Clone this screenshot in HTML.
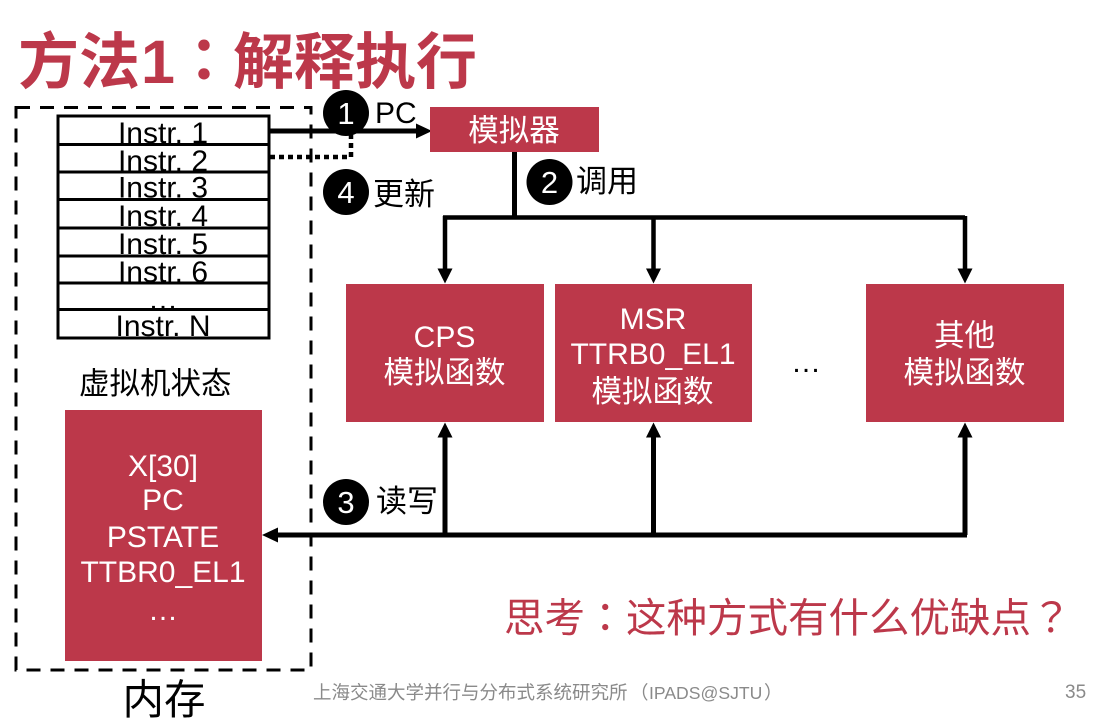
<!DOCTYPE html>
<html><head><meta charset="utf-8"><style>
html,body{margin:0;padding:0;background:#fff}
svg{display:block}
text{font-family:"Liberation Sans","Noto Sans CJK SC",sans-serif}
.tc{font-family:"Noto Sans CJK TC",sans-serif}
</style></head><body>
<svg width="1102" height="723" viewBox="0 0 1102 723" xmlns="http://www.w3.org/2000/svg">
<rect width="1102" height="723" fill="#fff"/>
<g font-size="61" font-weight="700" fill="#BC384A">
<text x="18" y="83">方法</text>
<text x="141" y="83">1</text>
<text x="174" y="82" class="tc" font-size="60">：</text>
<text x="233" y="83">解释执行</text>
</g>
<rect x="16" y="107.5" width="295" height="562.5" fill="none" stroke="#000" stroke-width="3" stroke-dasharray="14 10"/>
<g fill="#fff" stroke="#000" stroke-width="3">
<rect x="58" y="116" width="211" height="28.5"/><rect x="58" y="144.5" width="211" height="27.5"/><rect x="58" y="172" width="211" height="27.5"/><rect x="58" y="199.5" width="211" height="28.5"/><rect x="58" y="228" width="211" height="28"/><rect x="58" y="256" width="211" height="27"/><rect x="58" y="283" width="211" height="26.5"/><rect x="58" y="309.5" width="211" height="28.5"/>
</g>
<g font-size="30" text-anchor="middle" fill="#000">
<text x="163" y="143">Instr. 1</text><text x="163" y="171">Instr. 2</text><text x="163" y="197.5">Instr. 3</text><text x="163" y="226">Instr. 4</text><text x="163" y="254">Instr. 5</text><text x="163" y="282">Instr. 6</text><text x="163" y="309">…</text><text x="163" y="336">Instr. N</text>
</g>
<g stroke="#000" fill="none">
<path d="M269 131H418" stroke-width="5"/>
<path d="M270 157H351V133" stroke-width="4.5" stroke-dasharray="5 4"/>
<path d="M514.5 151V217" stroke-width="5"/>
<path d="M443 217.5H965" stroke-width="4.5"/>
<path d="M445 216V270M653.5 216V270M965 216V270" stroke-width="4.5"/>
<path d="M445 535V436M653.5 535V436M965 535V436" stroke-width="5"/>
<path d="M276 535H967" stroke-width="5"/>
</g>
<g fill="#000">
<path d="M432 131L416 123.5V138.5Z"/>
<path d="M445 283.5L437.500 268.500H452.500Z"/><path d="M653.500 283.500L646 268.500H661Z"/><path d="M965 283.500L957.500 268.500H972.500Z"/>
<path d="M445 422.500L437.500 437.500H452.500Z"/><path d="M653.500 422.500L646 437.500H661Z"/><path d="M965 422.500L957.500 437.500H972.500Z"/>
<path d="M262 535L278 527.500V542.500Z"/>
<circle cx="346" cy="113" r="23"/><circle cx="346" cy="192" r="23"/><circle cx="549.500" cy="182" r="23"/><circle cx="346" cy="502" r="23"/>
</g>
<g font-size="31" text-anchor="middle" fill="#fff">
<text x="346" y="124">1</text><text x="346" y="203">4</text><text x="549.500" y="193">2</text><text x="346" y="513">3</text>
</g>
<g font-size="31" fill="#000">
<text x="375" y="123" font-size="30">PC</text><text x="373" y="205">更新</text><text x="576" y="192">调用</text><text x="376" y="512">读写</text>
<text x="79" y="394" font-size="30.500">虚拟机状态</text>
</g>
<g fill="#BC384A">
<rect x="430" y="107" width="169" height="45"/><rect x="346" y="284" width="198" height="138"/><rect x="555" y="284" width="197" height="138"/><rect x="866" y="284" width="198" height="138"/><rect x="65" y="410" width="197" height="251"/>
</g>
<g font-size="30" text-anchor="middle" fill="#fff">
<text x="514" y="141" font-size="30.500">模拟器</text>
<text x="444.500" y="347">CPS</text><text x="444.500" y="383" font-size="30.500">模拟函数</text>
<text x="653" y="329">MSR</text><text x="653" y="364">TTRB0_EL1</text><text x="652.500" y="402" font-size="30.500">模拟函数</text>
<text x="964.500" y="346" font-size="30.500">其他</text><text x="964.500" y="383" font-size="30.500">模拟函数</text>
<text x="163" y="476">X[30]</text><text x="163" y="510">PC</text><text x="163" y="547">PSTATE</text><text x="163" y="582">TTBR0_EL1</text><text x="163" y="620">…</text>
</g>
<text x="806" y="372" font-size="30" text-anchor="middle" fill="#000">…</text>
<g font-size="40.500" fill="#BC384A">
<text x="504" y="632">思考</text>
<text x="585" y="632" class="tc">：</text>
<text x="626" y="632">这种方式有什么优缺点</text>
<text x="1031" y="632" class="tc">？</text>
</g>
<text x="164" y="714" font-size="41.500" text-anchor="middle" fill="#000">内存</text>
<g font-size="18.500" fill="#8a8a8a">
<text x="313" y="699">上海交通大学并行与分布式系统研究所</text>
<text x="630" y="699" class="tc">（</text>
<text x="649" y="699" font-size="17.600">IPADS@SJTU</text>
<text x="764" y="699" class="tc">）</text>
<text x="1065" y="698" font-size="19">35</text>
</g>
</svg>
</body></html>
